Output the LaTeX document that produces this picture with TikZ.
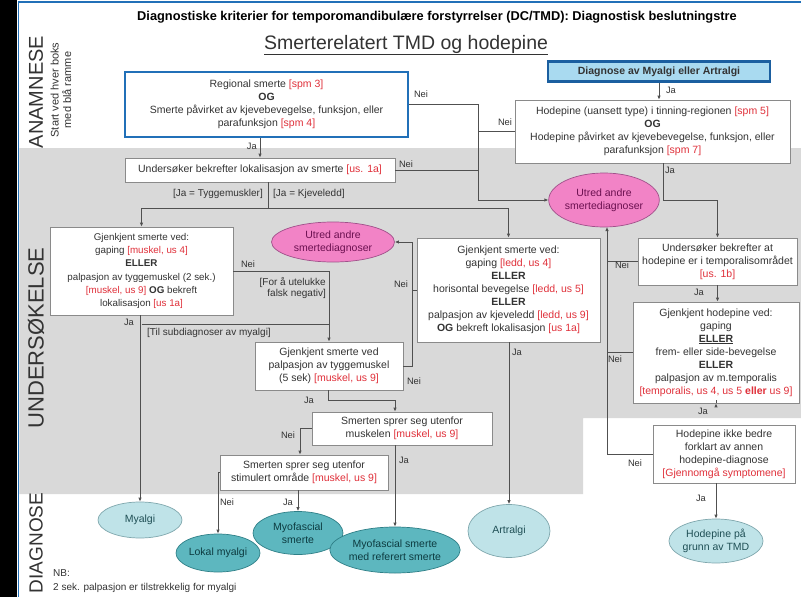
\documentclass[tikz,border=0pt]{standalone}
\usepackage{fontspec}
\setmainfont{Liberation Sans}
\usetikzlibrary{arrows.meta,shapes.geometric,calc}

\definecolor{bandgray}{HTML}{D9D9D9}
\definecolor{boxgray}{HTML}{8A8A8A}
\definecolor{linegray}{HTML}{505050}
\definecolor{txtgray}{HTML}{333333}
\definecolor{txtred}{HTML}{E0303A}
\definecolor{ablue}{HTML}{2170B8}
\definecolor{bblue}{HTML}{1B5FA0}
\definecolor{bfill}{HTML}{A9DAF0}
\definecolor{pinkfill}{HTML}{F283C6}
\definecolor{pinkline}{HTML}{A0508A}
\definecolor{pinktext}{HTML}{6B1050}
\definecolor{lbfill}{HTML}{BFE3E8}
\definecolor{lbline}{HTML}{7FA7AD}
\definecolor{lbtext}{HTML}{1F4F55}
\definecolor{tealfill}{HTML}{5DB7BF}
\definecolor{tealline}{HTML}{2E7F87}
\definecolor{tealtext}{HTML}{0D3B40}

\newcommand{\rd}[1]{\textcolor{txtred}{#1}}
\newcommand{\bxfont}{\fontsize{10.5}{13}\selectfont}
\newcommand{\smbxfont}{\fontsize{9.8}{13.2}\selectfont}
\newcommand{\lblfont}{\fontsize{10}{11.5}\selectfont}
\newcommand{\yesnofont}{\fontsize{9.3}{11}\selectfont}

\begin{document}
\begin{tikzpicture}[x=1pt,y=-1pt,
  box/.style={draw=boxgray, fill=white, line width=0.7pt, inner sep=2pt,
              align=center, font=\bxfont, text=txtgray},
  ell/.style={ellipse, draw, line width=0.7pt, inner sep=0pt, align=center, font=\bxfont},
  pinkell/.style={ell, fill=pinkfill, draw=pinkline, text=pinktext},
  lbell/.style={ell, fill=lbfill, draw=lbline, text=lbtext},
  tealell/.style={ell, fill=tealfill, draw=tealline, text=tealtext},
  lbl/.style={font=\lblfont, text=txtgray, inner sep=1pt},
  yn/.style={font=\yesnofont, text=txtgray, inner sep=1pt},
  conn/.style={draw=linegray, line width=0.8pt},
  arr/.style={conn, -{Latex[length=4pt,width=3.5pt]}},
  side/.style={rotate=90, text=txtgray}]

\useasboundingbox (0,0) rectangle (801,597);
\fill[white] (0,0) rectangle (801,597);

% page frame
\fill[black] (0,0) rectangle (17,597);
\draw[ablue, line width=1.5pt] (18.5,597) -- (18.5,2) -- (801,2);

% grey examination band
\fill[bandgray] (19.3,148) -- (801,148) -- (801,418) -- (583,418) -- (583,494) -- (19.3,494) -- cycle;

% headings
\node[font=\bfseries\fontsize{12.8}{14}\selectfont, text=black] (title) at (437,17)
  {Diagnostiske kriterier for temporomandibulære forstyrrelser (DC/TMD): Diagnostisk beslutningstre};
\node[font=\fontsize{19.5}{21}\selectfont, text=txtgray] (subtitle) at (406,45)
  {\underline{Smerterelatert TMD og hodepine}};

% section labels
\node[side, font=\fontsize{20}{20}\selectfont] (anamnese) at (36,92) {ANAMNESE};
\node[side, font=\fontsize{11}{12.5}\selectfont, align=center] (startnote) at (61,90)
  {Start ved hver boks\\med blå ramme};
\node[side, font=\fontsize{22}{22}\selectfont] (undersokelse) at (36,338) {UNDERSØKELSE};
\node[side, font=\fontsize{19}{19}\selectfont] (diagnose) at (36,543) {DIAGNOSE};

% decision boxes
\node[box, draw=ablue, line width=2.5pt, minimum width=283pt, minimum height=65pt] (A) at (266.5,104.5)
  {Regional smerte \rd{[spm 3]}\\\textbf{OG}\\Smerte påvirket av kjevebevegelse, funksjon, eller\\parafunksjon \rd{[spm 4]}};
\node[box, draw=bblue, fill=bfill, line width=2.8pt, minimum width=222pt, minimum height=20pt] (B) at (659,71.5)
  {\textbf{Diagnose av Myalgi eller Artralgi}};
\node[box, minimum width=275pt, minimum height=63pt] (C) at (652.5,131.5)
  {Hodepine (uansett type) i tinning-regionen \rd{[spm 5]}\\\textbf{OG}\\Hodepine påvirket av kjevebevegelse, funksjon, eller\\parafunksjon \rd{[spm 7]}};
\node[box, minimum width=270pt, minimum height=24pt] (D) at (260,170)
  {Undersøker bekrefter lokalisasjon av smerte \rd{[us. 1a]}};
\node[box, font=\smbxfont, minimum width=183pt, minimum height=88pt] (E) at (141.5,271)
  {Gjenkjent smerte ved:\\gaping \rd{[muskel, us 4]}\\\textbf{ELLER}\\palpasjon av tyggemuskel (2 sek.)\\\rd{[muskel, us 9]} \textbf{OG} bekreft\\lokalisasjon \rd{[us 1a]}};
\node[box, minimum width=183pt, minimum height=104pt] (F) at (508.5,290)
  {Gjenkjent smerte ved:\\gaping \rd{[ledd, us 4]}\\\textbf{ELLER}\\horisontal bevegelse \rd{[ledd, us 5]}\\\textbf{ELLER}\\palpasjon av kjeveledd \rd{[ledd, us 9]}\\\textbf{OG} bekreft lokalisasjon \rd{[us 1a]}};
\node[box, minimum width=148pt, minimum height=48pt] (G) at (329,366)
  {Gjenkjent smerte ved\\palpasjon av tyggemuskel\\(5 sek) \rd{[muskel, us 9]}};
\node[box, minimum width=159pt, minimum height=47pt] (H) at (717.5,261.5)
  {Undersøker bekrefter at\\hodepine er i temporalisområdet\\\rd{[us. 1b]}};
\node[box, minimum width=166pt, minimum height=101pt] (I) at (716,352.5)
  {Gjenkjent hodepine ved:\\gaping\\\underline{\textbf{ELLER}}\\frem- eller side-bevegelse\\\textbf{ELLER}\\palpasjon av m.temporalis\\\rd{[temporalis, us 4, us 5 \textbf{eller} us 9]}};
\node[box, minimum width=142pt, minimum height=58pt] (J) at (724,454)
  {Hodepine ikke bedre\\forklart av annen\\hodepine-diagnose\\\rd{[Gjennomgå symptomene]}};
\node[box, minimum width=180pt, minimum height=33pt] (K) at (402,428.5)
  {Smerten sprer seg utenfor\\muskelen \rd{[muskel, us 9]}};
\node[box, minimum width=168pt, minimum height=35pt] (L) at (304,472.5)
  {Smerten sprer seg utenfor\\stimulert område \rd{[muskel, us 9]}};

% outcome ellipses
\node[pinkell, minimum width=104pt, minimum height=54pt] (pinkR) at (604,200) {Utred andre\\smertediagnoser};
\node[pinkell, minimum width=123pt, minimum height=40pt] (pinkL) at (333,242) {Utred andre\\smertediagnoser};
\node[lbell, minimum width=84pt, minimum height=36pt] (myalgi) at (140,520) {Myalgi};
\node[tealell, minimum width=84pt, minimum height=38pt] (lokal) at (218,553) {Lokal myalgi};
\node[tealell, minimum width=90pt, minimum height=43pt] (myof) at (298,533) {Myofascial\\smerte};
\node[tealell, minimum width=120pt, minimum height=46pt] (myref) at (395,550) {Myofascial smerte\\med referert smerte};
\node[lbell, minimum width=82pt, minimum height=53pt] (artralgi) at (509,531) {Artralgi};
\node[lbell, minimum width=84pt, minimum height=44pt] (hodetmd) at (716,541) {Hodepine på\\grunn av TMD};

% junction points
\coordinate (nv) at (478,200);
\coordinate (dbr) at (268,208);
\coordinate (gv) at (412,242);
\coordinate (cj) at (663,200);
\coordinate (rv) at (607,227);
\coordinate (ts) at (141.5,324);
\coordinate (gk) at (328,400);
\coordinate (kk) at (395,400);
\coordinate (kl) at (300,428);

% history part
\draw[arr] (A.south -| D.north) -- (D.north);
\node[yn, anchor=east] (jaA) at (258,146) {Ja};
\draw[arr] (A.east) -| (nv) -- (pinkR.west);
\node[yn] (neiA) at (421,94) {Nei};
\draw[conn] (C.west) -- (C.west -| nv);
\node[yn] (neiC) at (505,122) {Nei};
\draw[conn] (D.east) -- (D.east -| nv);
\node[yn] (neiD) at (406,164) {Nei};
\draw[arr] (B.south) -- (B.south |- C.north);
\node[yn] (jaB) at (671,90) {Ja};

% muscle / joint branch
\draw[conn] (D.south -| dbr) -- (dbr);
\draw[arr] (dbr) -| (E.north);
\draw[arr] (dbr) -| (F.north);
\node[lbl, anchor=east] (jaT) at (264,194) {[Ja = Tyggemuskler]};
\node[lbl, anchor=west] (jaK) at (272,194) {[Ja = Kjeveledd]};

\draw[arr] (E.east) -| (G.north);
\node[yn] (neiE) at (248,264) {Nei};
\node[lbl, anchor=east, align=right] (falsk) at (327,288) {[For å utelukke\\falsk negativ]};
\draw[arr] (E.south -| myalgi.north) -- (myalgi.north);
\node[yn] (jaE) at (129,322) {Ja};
\draw[conn] (ts) -- (ts -| G.north);
\node[lbl, anchor=west] (tilsub) at (146,333) {[Til subdiagnoser av myalgi]};

\draw[arr] (G.east) -| (gv) -- (pinkL.east);
\node[yn] (neiG) at (414,381) {Nei};
\draw[conn] (F.west) -- (F.west -| gv);
\node[yn] (neiF) at (401,284) {Nei};
\draw[arr] (F.south -| artralgi.north) -- (artralgi.north);
\node[yn] (jaF) at (517,352) {Ja};

\draw[arr] (G.south -| gk) -- (gk) -- (kk) -- (kk |- K.north);
\node[yn] (jaG) at (309,400) {Ja};
\draw[arr] (K.west) -- (K.west -| kl) -- (kl |- L.north);
\node[yn] (neiK) at (288,435) {Nei};
\draw[arr] (K.south -| myref.north) -- (myref.north);
\node[yn] (jaK2) at (404,460) {Ja};
\draw[arr] (L.west) -| (lokal.north);
\node[yn] (neiL) at (227,502) {Nei};
\draw[arr] (L.south -| myof.north) -- (myof.north);
\node[yn] (jaL) at (288,502) {Ja};

% headache branch
\draw[arr] (C.south -| cj) -- (cj) -| (H.north);
\node[yn] (jaC) at (670,170) {Ja};
\draw[arr] (J.west) -- (J.west -| rv) -- (rv);
\draw[conn] (H.west) -- (H.west -| rv);
\node[yn] (neiH) at (622,265) {Nei};
\draw[conn] (I.west) -- (I.west -| rv);
\node[yn] (neiI) at (615,359) {Nei};
\node[yn] (neiJ) at (635,463) {Nei};
\draw[arr] (H.south) -- (H.south |- I.north);
\node[yn] (jaH) at (699,292) {Ja};
\draw[arr] (I.south -| hodetmd.north) -- (I.south -| hodetmd.north |- J.north);
\node[yn] (jaI) at (703,411) {Ja};
\draw[arr] (J.south -| hodetmd.north) -- (hodetmd.north);
\node[yn] (jaJ) at (701,498) {Ja};

% footnote
\node[lbl, anchor=west] (nb) at (52,573) {NB:};
\node[lbl, anchor=west] (nbtext) at (52,588) {2 sek. palpasjon er tilstrekkelig for myalgi};

\end{tikzpicture}
\end{document}
